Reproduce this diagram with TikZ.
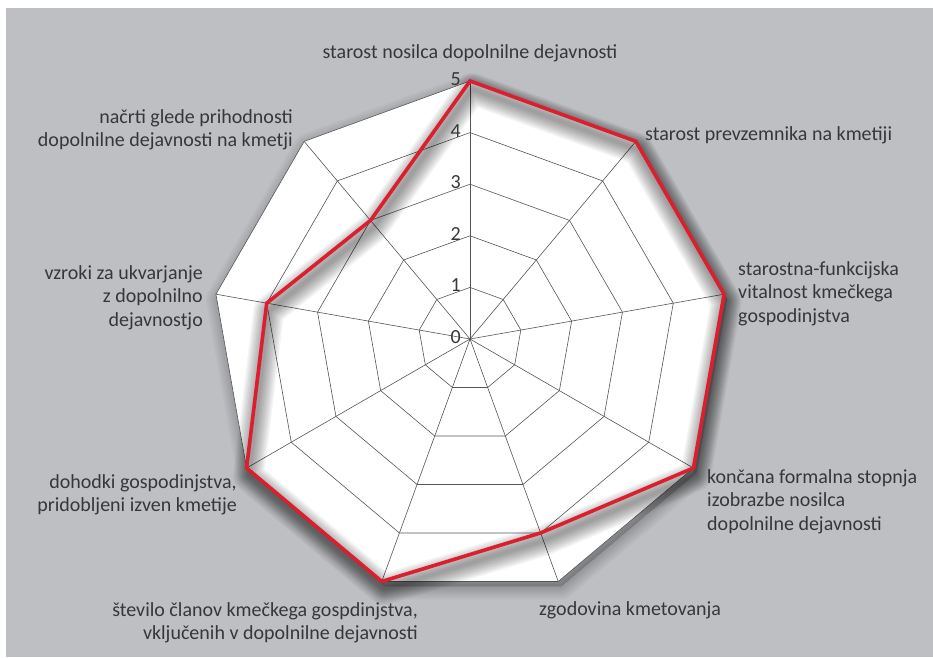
\documentclass[tikz,border=0pt]{standalone}
\usepackage{fontspec}
\setmainfont{Carlito}
\definecolor{bg}{RGB}{190,191,195}
\definecolor{gridc}{RGB}{85,85,85}
\definecolor{datared}{RGB}{221,30,46}
\definecolor{txt}{RGB}{55,55,55}
\begin{document}
\begin{tikzpicture}[x=1pt,y=-1pt,
  gridline/.style={draw=gridc,line width=0.6pt},
  lbl/.style={inner sep=0pt,text=txt,font=\fontsize{20}{23.5}\selectfont},
  numlbl/.style={inner sep=0pt,text=txt,font=\fontsize{20}{22}\selectfont,anchor=east},
  datal/.style={draw=datared,line width=3.6pt,line join=miter},
]
\useasboundingbox (0,0) rectangle (933,657);
\fill[bg] (6,8) rectangle (933,657);
\coordinate (c) at (470,339);
\foreach \r in {1,...,5}
  \foreach \i in {0,...,8}
    \coordinate (v\r-\i) at ({470+\r*51.6*cos(90-40*\i)},{339-\r*51.6*sin(90-40*\i)});
\foreach \v [count=\i from 0] in {5,5,5,5,4,5,5,4,3}
  \coordinate (d\i) at ({470+\v*51.6*cos(90-40*\i)},{339-\v*51.6*sin(90-40*\i)});
% soft drop shadow of the web
\foreach \w in {2,6,...,26}
  \draw[black,draw opacity=0.03,fill=black,fill opacity=0.025,line width=\w pt,line join=round,
        transform canvas={xshift=3pt,yshift=-5pt}]
    (v5-0) \foreach \i in {1,...,8}{-- (v5-\i)} -- cycle;
% web
\fill[white] (v5-0) \foreach \i in {1,...,8}{-- (v5-\i)} -- cycle;
\foreach \r in {1,...,5}
  \draw[gridline] (v\r-0) \foreach \i in {1,...,8}{-- (v\r-\i)} -- cycle;
\foreach \i in {0,...,8}
  \draw[gridline] (c) -- (v5-\i);
% soft shadow of the data line
\foreach \w in {4,7,...,31}
  \draw[black,opacity=0.045,line width=\w pt,line join=round,
        transform canvas={xshift=2pt,yshift=-8pt}]
    (d0) \foreach \i in {1,...,8}{-- (d\i)} -- cycle;
\draw[datal] (d0) \foreach \i in {1,...,8}{-- (d\i)} -- cycle;
% axis numbers
\foreach \r in {0,...,5}
  \node[numlbl] (n\r) at (461,{339-\r*51.6-2}) {\r};
% category labels (base = last line)
\node[lbl,anchor=base] (l0) at (470,58) {starost nosilca dopolnilne dejavnosti};
\node[lbl,anchor=base west] (l1) at (645,140) {starost prevzemnika na kmetiji};
\node[lbl,anchor=base west,align=left] (l2) at (738,322) {starostna-funkcijska\\vitalnost kmečkega\\gospodinjstva};
\node[lbl,anchor=base west,align=left] (l3) at (707,530) {končana formalna stopnja\\izobrazbe nosilca\\dopolnilne dejavnosti};
\node[lbl,anchor=base west] (l4) at (539,615) {zgodovina kmetovanja};
\node[lbl,anchor=base east,align=right] (l5) at (418,639.5) {število članov kmečkega gospdinjstva,\\vključenih v dopolnilne dejavnosti};
\node[lbl,anchor=base east,align=right] (l6) at (237,511.5) {dohodki gospodinjstva,\\pridobljeni izven kmetije};
\node[lbl,anchor=base east,align=right] (l7) at (203,326) {vzroki za ukvarjanje\\z dopolnilno\\dejavnostjo};
\node[lbl,anchor=base east,align=right] (l8) at (293,146.5) {načrti glede prihodnosti\\dopolnilne dejavnosti na kmetji};
\end{tikzpicture}
\end{document}
